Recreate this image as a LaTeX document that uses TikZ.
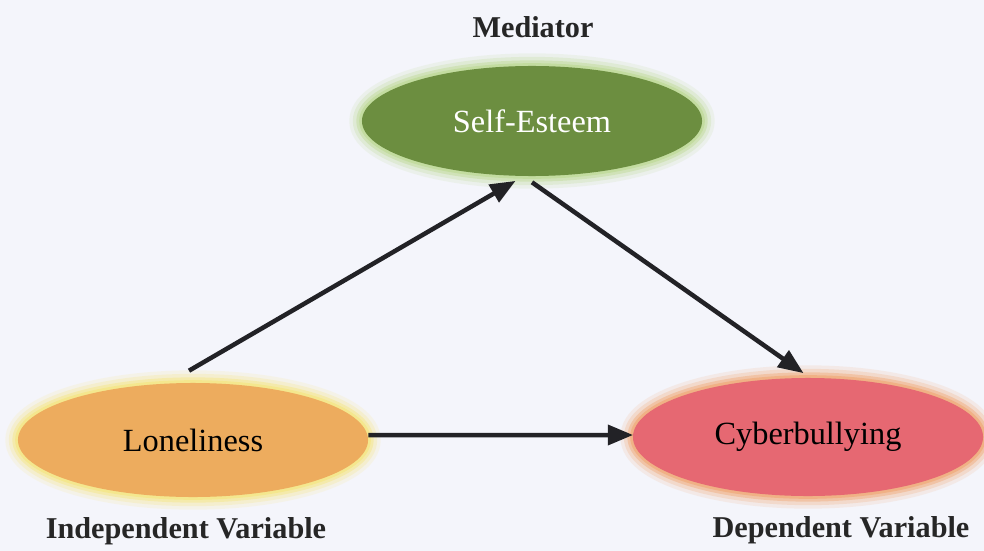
\documentclass[tikz,border=0pt]{standalone}
\usepackage{fontspec}
\setmainfont{Liberation Serif}
\usetikzlibrary{arrows,positioning,shapes}
\definecolor{paper}{RGB}{244,245,251}
\definecolor{seFill}{RGB}{108,142,64}
\definecolor{seGlow}{RGB}{190,218,150}
\definecolor{loFill}{RGB}{237,172,94}
\definecolor{loGlow}{RGB}{245,230,130}
\definecolor{cbFill}{RGB}{230,104,114}
\definecolor{cbGlow}{RGB}{240,170,120}
\definecolor{arr}{RGB}{34,34,38}
\tikzstyle{vN}=[ellipse,inner sep = 0pt,font=\fontsize{23}{26}\selectfont]
\tikzstyle{glow}=[preaction={draw=#1,line width=18pt,opacity=0.15},
                  preaction={draw=#1,line width=13pt,opacity=0.25},
                  preaction={draw=#1,line width=8pt,opacity=0.45},
                  preaction={draw=#1,line width=4pt,opacity=0.7}]
\tikzstyle{vLab}=[font=\fontsize{21.5}{24}\selectfont\bfseries,text=black!85]
\tikzstyle{eA}=[-triangle 45,line width=3.2pt,draw=arr]
\begin{document}
\begin{tikzpicture}[x=0.025cm,y=-0.025cm]
                \useasboundingbox (0,0) rectangle (984,551);
                \fill[paper] (0,0) rectangle (984,551);
                \draw (532,121) node[vN,glow=seGlow,fill=seFill,text=white,minimum width=8.5cm,minimum height=2.75cm] (self) {Self-Esteem};
                \draw (193,440) node[vN,glow=loGlow,fill=loFill,minimum width=8.75cm,minimum height=2.85cm] (lone) {Loneliness};
                \draw (808,437) node[vN,glow=cbGlow,fill=cbFill,minimum width=8.75cm,minimum height=2.95cm] (cyber) {Cyberbullying};
                \draw (533,27) node[vLab] (med) {Mediator};
                \draw (186,531) node[vLab] (indep) {Independent Variable};
                \draw (841,530) node[vLab] (dep) {Dependent Variable};
                \path
                    ([xshift=-0.1cm,yshift=0.3cm]lone.north) edge[eA] ([xshift=-0.42cm,yshift=-0.12cm]self.south)
                    ([yshift=-0.15cm]self.south) edge[eA] ([xshift=-0.12cm,yshift=0.12cm]cyber.north)
                    ([xshift=0cm,yshift=0.125cm]lone.east) edge[eA] ([yshift=0.05cm]cyber.west)
                ;
        \end{tikzpicture}
\end{document}
